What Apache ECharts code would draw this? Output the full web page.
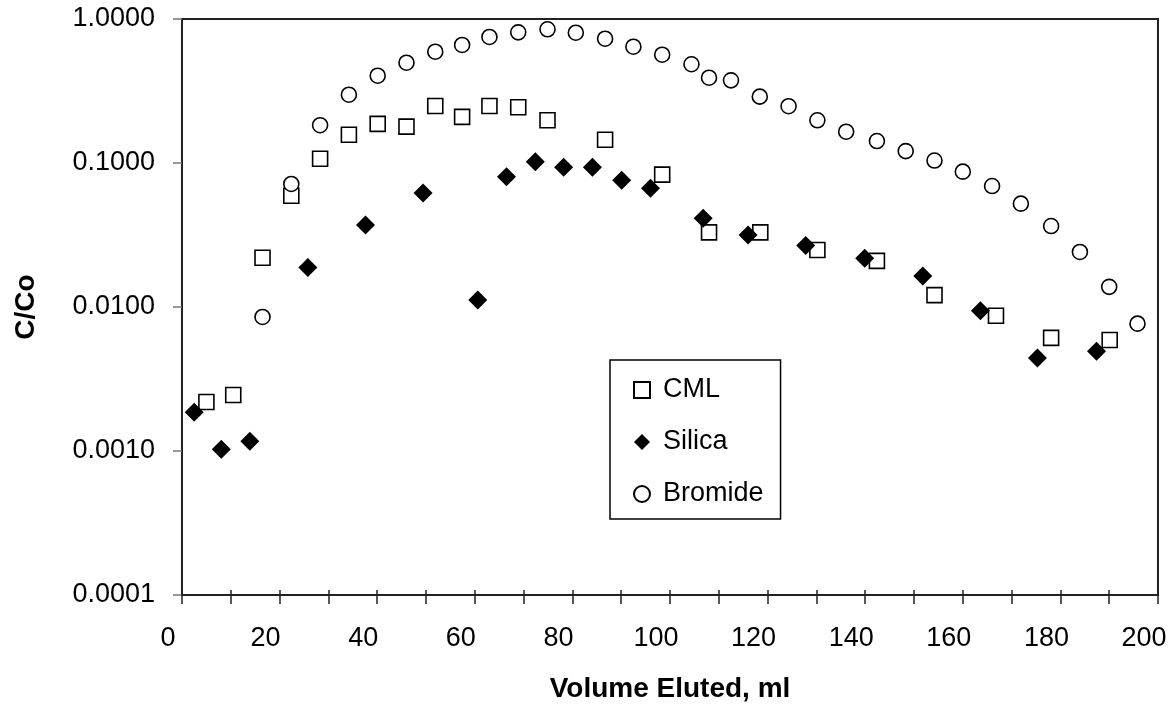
<!DOCTYPE html>
<html>
<head>
<meta charset="utf-8">
<script src="https://cdn.jsdelivr.net/npm/echarts@6/dist/echarts.min.js"></script>
<style>
html,body{margin:0;padding:0;background:#fff;}
#chart{width:1175px;height:711px;}
</style>
</head>
<body>
<div id="chart"></div>
<script>
// ---- data ----
const cmlX = [5.0, 10.5, 16.5, 22.4, 28.3, 34.2, 40.1, 46.0, 51.9, 57.4, 63.0, 68.9, 74.9, 86.7, 98.4, 108.0, 118.5, 130.2, 142.4, 154.2, 166.8, 178.1, 190.1];
const cmlY = [0.00219, 0.00245, 0.022, 0.0593, 0.107, 0.157, 0.187, 0.179, 0.249, 0.209, 0.249, 0.244, 0.198, 0.145, 0.083, 0.033, 0.033, 0.0249, 0.0209, 0.0121, 0.0087, 0.0061, 0.0059];

const silicaX = [2.5, 8.05, 13.9, 25.8, 37.6, 49.4, 60.6, 66.5, 72.4, 78.2, 84.1, 90.1, 96.0, 106.8, 116.0, 127.8, 139.9, 151.8, 163.6, 175.3, 187.4];
const silicaY = [0.00186, 0.00103, 0.00117, 0.0188, 0.0371, 0.0619, 0.0112, 0.0803, 0.102, 0.0933, 0.0935, 0.0758, 0.0668, 0.0413, 0.0316, 0.0267, 0.0218, 0.0164, 0.0094, 0.00442, 0.00492];

const bromideX = [16.5, 22.4, 28.3, 34.2, 40.1, 46.0, 51.9, 57.4, 63.0, 68.9, 74.9, 80.7, 86.7, 92.5, 98.4, 104.4, 108.0, 112.5, 118.4, 124.3, 130.2, 136.1, 142.4, 148.3, 154.2, 160.0, 166.0, 171.9, 178.1, 184.0, 190.0, 195.8];
const bromideY = [0.00853, 0.0715, 0.183, 0.298, 0.404, 0.497, 0.593, 0.660, 0.750, 0.808, 0.848, 0.803, 0.730, 0.642, 0.565, 0.485, 0.391, 0.375, 0.289, 0.248, 0.198, 0.165, 0.142, 0.121, 0.104, 0.0871, 0.0692, 0.0522, 0.0365, 0.0241, 0.0138, 0.00766];

const seriesNames = ['CML', 'Silica', 'Bromide'];
const xTitle = 'Volume Eluted, ml';
const yTitle = 'C/Co';

function pairs(xs, ys) { return xs.map((x, i) => [x, ys[i]]); }

const FONT = "'Liberation Sans', Arial, sans-serif";
const chart = echarts.init(document.getElementById('chart'), null, {renderer: 'canvas'});

chart.setOption({
  animation: false,
  backgroundColor: '#ffffff',
  textStyle: {fontFamily: FONT},
  grid: {
    left: 182, right: 17, top: 19, bottom: 116,
    show: true, borderColor: '#222', borderWidth: 2, backgroundColor: 'transparent'
  },
  legend: {
    orient: 'vertical',
    left: 610, top: 360,
    padding: [15, 17, 10, 23],
    itemGap: 22,
    itemWidth: 16, itemHeight: 16,
    borderColor: '#000', borderWidth: 1.5,
    backgroundColor: '#fff',
    textStyle: {fontFamily: FONT, fontSize: 27, color: '#000', lineHeight: 30, padding: [0, 0, 0, 8]},
    data: seriesNames
  },
  xAxis: [{
    type: 'value', min: 0, max: 200, interval: 10,
    position: 'bottom',
    name: xTitle, nameLocation: 'middle', nameGap: 80,
    nameTextStyle: {fontFamily: FONT, fontSize: 28, fontWeight: 'bold', color: '#000'},
    axisLine: {show: true, lineStyle: {color: '#222', width: 2}},
    axisTick: {show: true, inside: false, length: 9, lineStyle: {color: '#222', width: 1.5}},
    axisLabel: {
      fontFamily: FONT, fontSize: 27, color: '#000', margin: 30,
      padding: [0, 28, 0, 0],
      formatter: v => (v % 20 === 0 ? String(v) : '')
    },
    splitLine: {show: false}
  }, {
    type: 'value', min: 0, max: 200, interval: 10,
    position: 'bottom',
    axisLine: {show: false},
    axisTick: {show: true, inside: true, length: 5, lineStyle: {color: '#222', width: 1.5}},
    axisLabel: {show: false},
    splitLine: {show: false}
  }],
  yAxis: {
    type: 'log', logBase: 10, min: 0.0001, max: 1,
    name: yTitle, nameLocation: 'middle', nameGap: 142,
    nameTextStyle: {fontFamily: FONT, fontSize: 28, fontWeight: 'bold', color: '#000'},
    axisLine: {show: true, lineStyle: {color: '#222', width: 2}},
    axisTick: {show: true, inside: false, length: 9, lineStyle: {color: '#777', width: 1.5}},
    axisLabel: {
      fontFamily: FONT, fontSize: 27, color: '#000', margin: 27,
      formatter: v => Number(v).toFixed(4)
    },
    splitLine: {show: false},
    minorTick: {show: false}
  },
  series: [{
    name: seriesNames[0], type: 'scatter', xAxisIndex: 0,
    symbol: 'rect', symbolSize: 15,
    itemStyle: {color: '#fff', borderColor: '#000', borderWidth: 1.6, opacity: 1},
    data: pairs(cmlX, cmlY)
  }, {
    name: seriesNames[1], type: 'scatter', xAxisIndex: 0,
    symbol: 'diamond', symbolSize: 19,
    itemStyle: {color: '#000', borderColor: '#000', borderWidth: 0, opacity: 1},
    data: pairs(silicaX, silicaY)
  }, {
    name: seriesNames[2], type: 'scatter', xAxisIndex: 0,
    symbol: 'circle', symbolSize: 15,
    itemStyle: {color: '#fff', borderColor: '#000', borderWidth: 1.6, opacity: 1},
    data: pairs(bromideX, bromideY)
  }]
});
</script>
</body>
</html>
